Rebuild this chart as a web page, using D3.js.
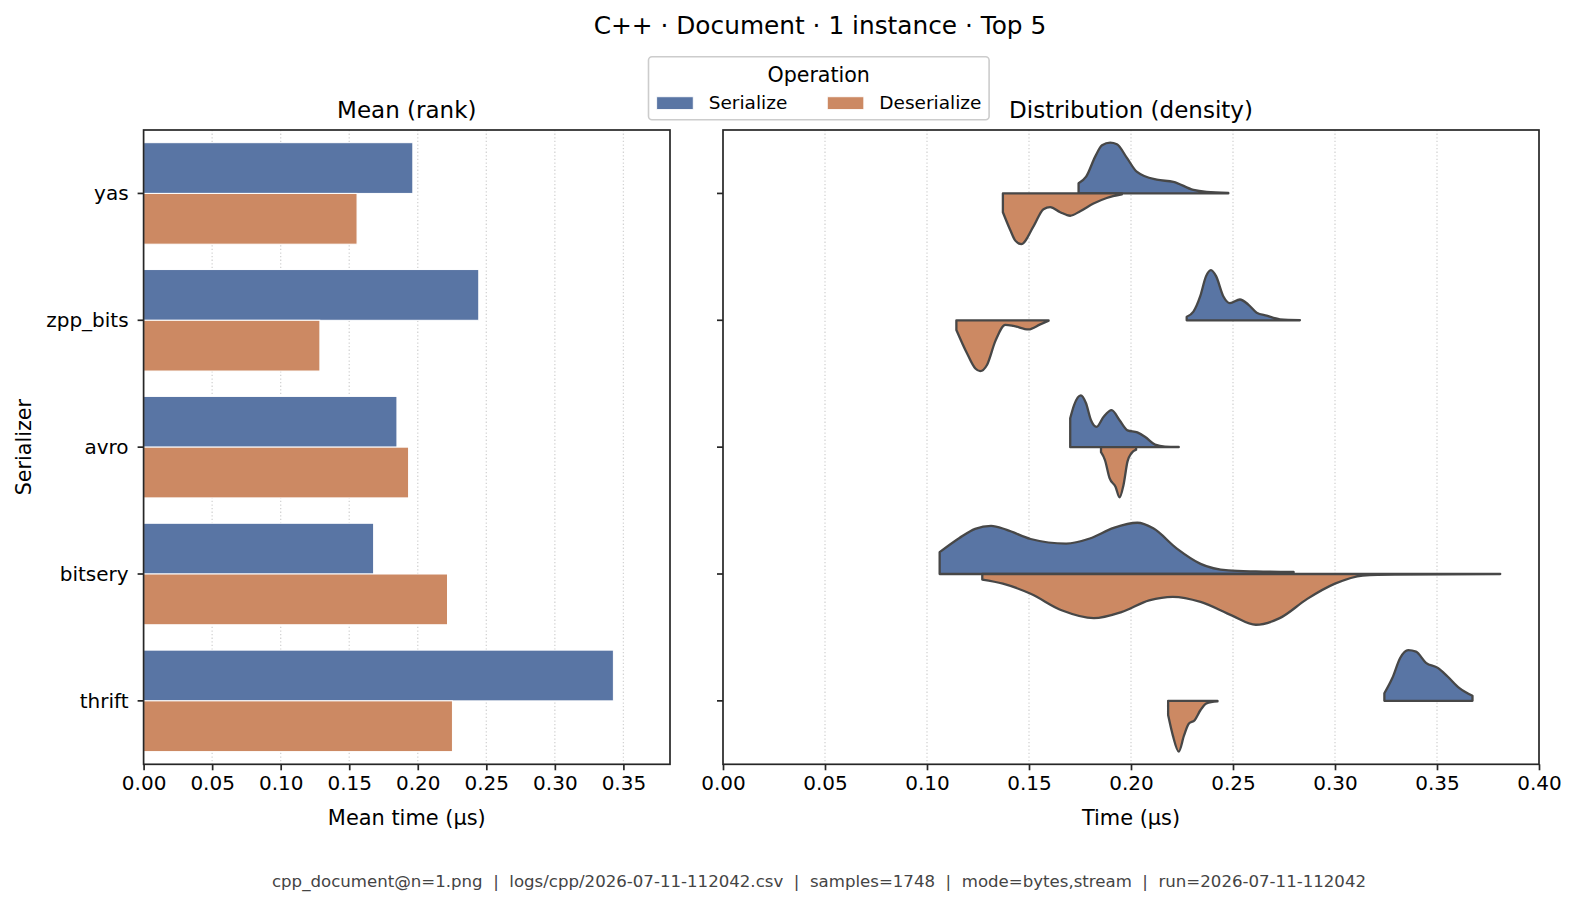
<!DOCTYPE html>
<html lang="en">
<head>
<meta charset="UTF-8">
<title>C++ Document 1 instance Top 5</title>
<script src="https://cdn.jsdelivr.net/npm/d3@7/dist/d3.min.js"></script>
<style>
  html, body { margin: 0; padding: 0; background: #fff; }
  svg { display: block; font-family: "DejaVu Sans", sans-serif; }
  .tick text { fill: #000; }
</style>
</head>
<body>
<svg id="main" width="1577" height="906"></svg>
<script>
    // ---- data ----
    const serializers = ['yas', 'zpp_bits', 'avro', 'bitsery', 'thrift'];
    const operations = ['Serialize', 'Deserialize'];
    const meanSerialize = [0.1964, 0.2445, 0.1848, 0.1678, 0.3427];
    const meanDeserialize = [0.1557, 0.1286, 0.1933, 0.2217, 0.2253];
    const meanTicks = [0, 0.05, 0.10, 0.15, 0.20, 0.25, 0.30, 0.35];
    const timeTicks = [0, 0.05, 0.10, 0.15, 0.20, 0.25, 0.30, 0.35, 0.40];

    // density outlines: [time µs, relative half-width], one per serializer
    const densitySerialize = [
        [[0.1743, 0.20], [0.1780, 0.33], [0.1825, 0.73], [0.1858, 0.95], [0.1898, 1.0], [0.1931, 0.97],
         [0.1980, 0.70], [0.2028, 0.43], [0.2126, 0.27], [0.2208, 0.23], [0.2306, 0.07], [0.2371, 0.03], [0.2477, 0.01]],
        [[0.2273, 0.07], [0.2306, 0.17], [0.2339, 0.47], [0.2368, 0.87], [0.2392, 0.99], [0.2417, 0.87],
         [0.2453, 0.47], [0.2485, 0.34], [0.2534, 0.41], [0.2575, 0.31], [0.2616, 0.15], [0.2665, 0.09],
         [0.2730, 0.02], [0.2828, 0.005]],
        [[0.1702, 0.57], [0.1721, 0.83], [0.1754, 1.02], [0.1779, 0.87], [0.1804, 0.53], [0.1831, 0.40],
         [0.1866, 0.60], [0.1905, 0.73], [0.1944, 0.53], [0.1983, 0.33], [0.2031, 0.29], [0.2070, 0.20],
         [0.2118, 0.05], [0.2167, 0.01], [0.2234, 0.005]],
        [[0.1062, 0.43], [0.1159, 0.71], [0.1236, 0.89], [0.1314, 0.95], [0.1391, 0.87], [0.1508, 0.69],
         [0.1682, 0.60], [0.1798, 0.70], [0.1915, 0.91], [0.2031, 1.01], [0.2109, 0.90], [0.2225, 0.50],
         [0.2341, 0.20], [0.2477, 0.07], [0.2612, 0.05], [0.2797, 0.04]],
        [[0.3242, 0.15], [0.3281, 0.45], [0.3320, 0.85], [0.3359, 1.0], [0.3397, 0.97], [0.3446, 0.75],
         [0.3504, 0.65], [0.3552, 0.48], [0.3610, 0.25], [0.3674, 0.10]]
    ];
    const densityDeserialize = [
        [[0.1372, 0.37], [0.1408, 0.72], [0.1433, 0.93], [0.1462, 1.0], [0.1522, 0.65], [0.1571, 0.31],
         [0.1604, 0.27], [0.1653, 0.37], [0.1702, 0.44], [0.1751, 0.35], [0.1816, 0.20], [0.1881, 0.09], [0.1955, 0.02]],
        [[0.1144, 0.19], [0.1196, 0.65], [0.1237, 0.95], [0.1261, 1.0], [0.1294, 0.88], [0.1335, 0.41],
         [0.1384, 0.09], [0.1424, 0.11], [0.1498, 0.18], [0.1555, 0.08], [0.1596, 0.01]],
        [[0.1853, 0.10], [0.1872, 0.25], [0.1895, 0.61], [0.1924, 0.78], [0.1944, 0.99], [0.1963, 0.75],
         [0.1983, 0.28], [0.2002, 0.12], [0.2025, 0.05]],
        [[0.1271, 0.11], [0.1372, 0.19], [0.1508, 0.39], [0.1663, 0.72], [0.1818, 0.87], [0.1953, 0.75],
         [0.2089, 0.52], [0.2205, 0.45], [0.2341, 0.55], [0.2496, 0.82], [0.2612, 1.0], [0.2729, 0.87],
         [0.2864, 0.49], [0.3000, 0.19], [0.3136, 0.03], [0.3291, 0.01], [0.3810, 0.002]],
        [[0.2182, 0.28], [0.2205, 0.68], [0.2234, 1.0], [0.2260, 0.68], [0.2283, 0.45], [0.2312, 0.38],
         [0.2341, 0.18], [0.2370, 0.05], [0.2424, 0.01]]
    ];

    const colors = { Serialize: '#5975a4', Deserialize: '#cc8963' };
    const footer = 'cpp_document@n=1.png  |  logs/cpp/2026-07-11-112042.csv  |  samples=1748  |  mode=bytes,stream  |  run=2026-07-11-112042';

    // ---- layout ----
    let svg = d3.select('svg#main');
    let plotTop = 130, plotBottom = 764.3;
    let leftAx = { x0: 143.6, x1: 670 };
    let rightAx = { x0: 723, x1: 1539 };
    const frameColor = '#262626';

    let yScale = d3.scaleBand().domain(serializers).range([plotTop, plotBottom]).padding(0);
    let bw = yScale.bandwidth();
    let opScale = d3.scaleBand().domain(operations).range([bw * 0.1, bw * 0.9]).padding(0);

    let xMean = d3.scaleLinear().domain([0, 0.384]).range([leftAx.x0, leftAx.x1]);
    let xTime = d3.scaleLinear().domain([0, 0.40]).range([rightAx.x0, rightAx.x1]);
    let wScale = d3.scaleLinear().domain([0, 1]).range([0, bw * 0.4]);

    function grid(scale, ticks) {
        svg.append('g').selectAll('line')
            .data(ticks.filter(t => t > 0 && scale(t) < scale.range()[1] - 1))
            .enter().append('line')
            .attr('x1', d => scale(d)).attr('x2', d => scale(d))
            .attr('y1', plotTop).attr('y2', plotBottom)
            .attr('stroke', '#d3d3d3').attr('stroke-width', 1.3)
            .attr('stroke-dasharray', '1.3,2.3');
    }
    grid(xMean, meanTicks);
    grid(xTime, timeTicks);

    // ---- left: mean bars ----
    let barData = [];
    serializers.forEach((s, i) => {
        barData.push({ s: s, op: 'Serialize', v: meanSerialize[i] });
        barData.push({ s: s, op: 'Deserialize', v: meanDeserialize[i] });
    });
    svg.append('g').selectAll('rect')
        .data(barData).enter().append('rect')
        .attr('x', xMean(0))
        .attr('y', d => yScale(d.s) + opScale(d.op))
        .attr('width', d => xMean(d.v) - xMean(0))
        .attr('height', opScale.bandwidth())
        .attr('fill', d => colors[d.op])
        .attr('stroke', '#fff').attr('stroke-width', 1);

    // ---- right: split violins ----
    let vg = svg.append('g');
    function violin(points, s, op) {
        let c = yScale(s) + bw / 2;
        let sign = op === 'Serialize' ? -1 : 1;
        let area = d3.area()
            .x(d => xTime(d[0]))
            .y0(c)
            .y1(d => c + sign * wScale(d[1]))
            .curve(d3.curveMonotoneX);
        vg.append('path')
            .attr('d', area(points) + 'Z')
            .attr('fill', colors[op])
            .attr('stroke', '#474747')
            .attr('stroke-width', 2.3)
            .attr('stroke-linejoin', 'round');
    }
    serializers.forEach((s, i) => {
        violin(densitySerialize[i], s, 'Serialize');
        violin(densityDeserialize[i], s, 'Deserialize');
    });

    // ---- axes ----
    function styleAxis(g) {
        g.attr('font-family', '"DejaVu Sans", sans-serif').attr('font-size', '20px');
        g.select('.domain').remove();
        g.selectAll('.tick line').attr('stroke', frameColor).attr('stroke-width', 1.7);
    }
    let fmt = d3.format('.2f');
    svg.append('g').attr('transform', 'translate(0,' + plotBottom + ')')
        .call(d3.axisBottom(xMean).tickValues(meanTicks).tickFormat(fmt).tickSize(6).tickPadding(6))
        .call(styleAxis);
    svg.append('g').attr('transform', 'translate(0,' + plotBottom + ')')
        .call(d3.axisBottom(xTime).tickValues(timeTicks).tickFormat(fmt).tickSize(6).tickPadding(6))
        .call(styleAxis);
    svg.append('g').attr('transform', 'translate(' + leftAx.x0 + ',0)')
        .call(d3.axisLeft(yScale).tickSize(6).tickPadding(9))
        .call(styleAxis)
        .call(g => g.selectAll('.tick text').attr('dy', '0.35em'));
    svg.append('g').attr('transform', 'translate(' + rightAx.x0 + ',0)')
        .call(d3.axisLeft(yScale).tickSize(6).tickFormat(''))
        .call(styleAxis);

    [leftAx, rightAx].forEach(a => {
        svg.append('rect')
            .attr('x', a.x0).attr('y', plotTop)
            .attr('width', a.x1 - a.x0).attr('height', plotBottom - plotTop)
            .attr('fill', 'none').attr('stroke', frameColor).attr('stroke-width', 1.7);
    });

    // ---- texts ----
    svg.append('text').attr('x', 820).attr('y', 34.3).attr('text-anchor', 'middle')
        .attr('font-size', '24.8px').text('C++ · Document · 1 instance · Top 5');
    svg.append('text').attr('x', (leftAx.x0 + leftAx.x1) / 2).attr('y', 118.3).attr('text-anchor', 'middle')
        .attr('font-size', '23px').text('Mean (rank)');
    svg.append('text').attr('x', (rightAx.x0 + rightAx.x1) / 2).attr('y', 118.3).attr('text-anchor', 'middle')
        .attr('font-size', '23px').text('Distribution (density)');
    svg.append('text').attr('x', (leftAx.x0 + leftAx.x1) / 2).attr('y', 825).attr('text-anchor', 'middle')
        .attr('font-size', '20.9px').text('Mean time (µs)');
    svg.append('text').attr('x', (rightAx.x0 + rightAx.x1) / 2).attr('y', 825).attr('text-anchor', 'middle')
        .attr('font-size', '20.9px').text('Time (µs)');
    svg.append('text').attr('transform', 'translate(31,' + (plotTop + plotBottom) / 2 + ') rotate(-90)')
        .attr('text-anchor', 'middle').attr('font-size', '20.7px').text('Serializer');
    svg.append('text').attr('x', 819).attr('y', 887).attr('text-anchor', 'middle')
        .attr('font-size', '16.6px').attr('fill', '#444')
        .style('white-space', 'pre').text(footer);

    // ---- legend ----
    let lg = svg.append('g');
    lg.append('rect').attr('x', 648.5).attr('y', 56.8).attr('width', 340.6).attr('height', 63)
        .attr('rx', 3.5).attr('fill', '#fff').attr('fill-opacity', 0.8)
        .attr('stroke', '#cccccc').attr('stroke-width', 1.6);
    lg.append('text').attr('x', 818.7).attr('y', 81.7).attr('text-anchor', 'middle')
        .attr('font-size', '20.6px').text('Operation');
    let legX = [656.7, 827.3];
    operations.forEach((op, i) => {
        lg.append('rect').attr('x', legX[i]).attr('y', 96.8).attr('width', 36.5).attr('height', 12.6)
            .attr('fill', colors[op]).attr('stroke', '#fff').attr('stroke-width', 0.8);
        lg.append('text').attr('x', legX[i] + 52).attr('y', 109)
            .attr('font-size', '18.5px').text(op);
    });
</script>
</body>
</html>
